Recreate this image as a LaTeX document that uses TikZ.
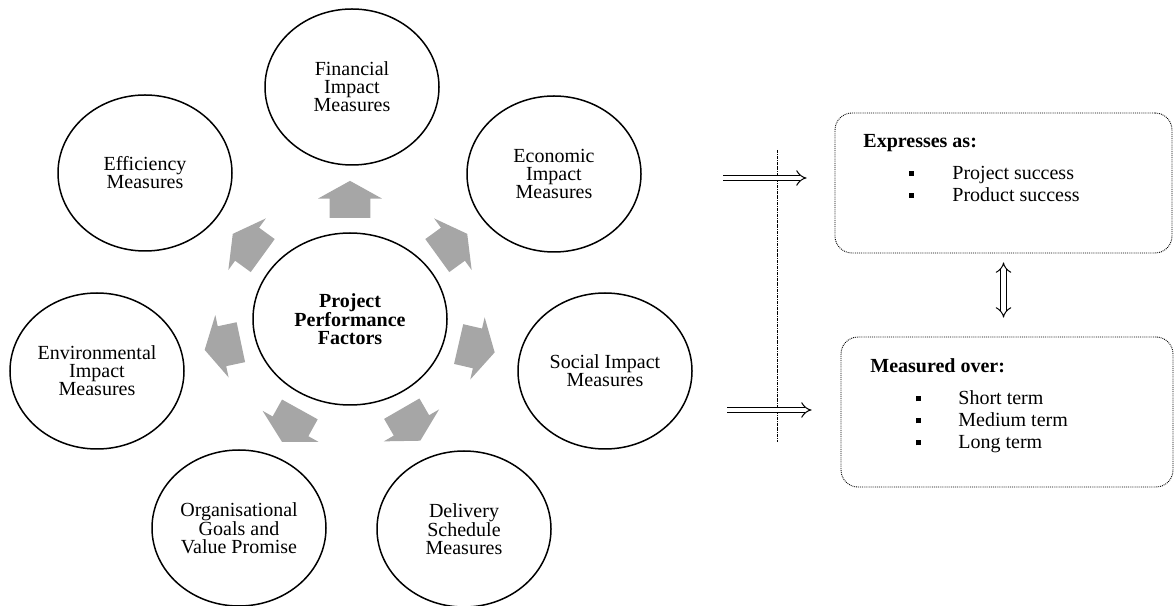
\documentclass[tikz,border=0pt]{standalone}
\usepackage{fontspec}
\setmainfont{Liberation Serif}
\usetikzlibrary{shapes.geometric,shapes.arrows,arrows.meta,calc}

\definecolor{arrowgray}{HTML}{A6A6A6}
\newcommand{\sqbullet}[1]{\makebox[#1][l]{\rule[3.5pt]{5pt}{5pt}}}

\begin{document}
\begin{tikzpicture}[x=1pt,y=1pt,thick,
    main node/.style={ellipse,draw,line width=1.5pt,minimum width=174pt,
                      minimum height=156pt,align=center,inner sep=0pt,
                      font=\fontsize{20}{18}\selectfont},
    core node/.style={main node,minimum width=194pt,minimum height=172pt,
                      font=\fontsize{20}{18}\selectfont\bfseries},
    block arrow/.style={single arrow,fill=arrowgray,draw=none,anchor=tail,
                        minimum height=37pt,inner xsep=0pt,inner ysep=20pt,
                        single arrow head extend=11.5pt,single arrow tip angle=122},
    hollow arrow/.style={double,double distance=4.5pt,line width=1pt,
                         -{Implies[length=8pt]}},
    note box/.style={draw,densely dotted,line width=0.9pt,rounded corners=17pt},
    item/.style={anchor=base west,inner sep=0pt,font=\fontsize{20}{22}\selectfont},
    item head/.style={item,font=\fontsize{20}{22}\selectfont\bfseries}]

  \useasboundingbox (0,0) rectangle (1174,605);

  % the factors and the measures round them
  \node[core node] (ppf) at (350,286) {Project\\Performance\\Factors};
  \node[main node] (fin) at (352,518) {Financial\\Impact\\Measures};
  \node[main node] (eco) at (554,431) {Economic\\Impact\\Measures};
  \node[main node] (soc) at (605,234) {Social Impact\\Measures};
  \node[main node] (del) at (464,76) {Delivery\\Schedule\\Measures};
  \node[main node] (org) at (239,77) {Organisational\\Goals and\\Value Promise};
  \node[main node] (env) at (97,234) {Environmental\\Impact\\Measures};
  \node[main node] (eff) at (145,432) {Efficiency\\Measures};

  \foreach \a [count=\i] in {90,36,347,300,241,192,144}
    \node[block arrow,rotate=\a] (arr\i) at ($(ppf.\a)+(\a:14)$) {};

  % divider and the two notes
  \coordinate (dv1) at (777,455);
  \coordinate (dv2) at (777,163);
  \draw[densely dashdotted,line width=0.6pt] (dv1) -- (dv2);

  \node[note box,minimum width=337pt,minimum height=140pt] (exbox) at (1003.5,422) {};
  \node[note box,minimum width=332pt,minimum height=150pt] (mobox) at (1007,193) {};

  \node[item head] (exhead) at (863,457) {Expresses as:};
  \node[item] (ex1) at (908.5,425.5) {\sqbullet{43.5pt}Project success};
  \node[item] (ex2) at (908.5,403.5) {\sqbullet{43.5pt}Product success};

  \node[item head] (mohead) at (870,232) {Measured over:};
  \node[item] (mo1) at (915.5,200) {\sqbullet{42.5pt}Short term};
  \node[item] (mo2) at (915.5,178) {\sqbullet{42.5pt}Medium term};
  \node[item] (mo3) at (915.5,156) {\sqbullet{42.5pt}Long term};

  \coordinate (ha1) at (723,427);
  \coordinate (ha2) at (727,195);
  \draw[hollow arrow,shorten >=28pt] (ha1) -- (ha1 -| exbox.west);
  \draw[hollow arrow,shorten >=29pt] (ha2) -- (ha2 -| mobox.west);
  \draw[hollow arrow,{Implies[length=8pt]}-{Implies[length=8pt]},
        shorten <=9pt,shorten >=19pt]
    (exbox.south) -- (exbox.south |- mobox.north);
\end{tikzpicture}
\end{document}
